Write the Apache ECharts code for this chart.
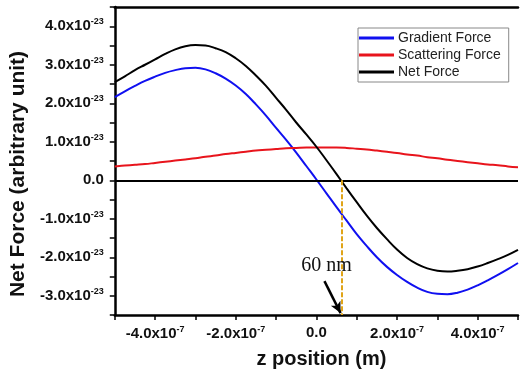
<!DOCTYPE html>
<html>
<head>
<meta charset="utf-8">
<script src="https://cdn.jsdelivr.net/npm/echarts@6/dist/echarts.min.js"></script>
<style>
  html, body { margin: 0; padding: 0; background: #fff; }
  #chart { width: 521px; height: 374px; }
</style>
</head>
<body>
<div id="chart"></div>
<script>
// z in units of 1e-7 m, forces in units of 1e-23
const zPos = [-5, -4.75, -4.5, -4.25, -4, -3.75, -3.5, -3.25, -3, -2.75, -2.5, -2.25, -2, -1.75, -1.5, -1.25, -1, -0.75, -0.5, -0.25,
  0, 0.25, 0.5, 0.75, 1, 1.25, 1.5, 1.75, 2, 2.25, 2.5, 2.75, 3, 3.25, 3.5, 3.75, 4, 4.25, 4.5, 4.75, 5];
const gradientForce = [2.16, 2.31, 2.45, 2.58, 2.69, 2.79, 2.86, 2.91, 2.92, 2.88, 2.78, 2.64, 2.46, 2.24, 1.97, 1.68, 1.36, 1.05, 0.72, 0.37,
  0.02, -0.34, -0.70, -1.05, -1.40, -1.71, -2.00, -2.25, -2.46, -2.64, -2.79, -2.90, -2.95, -2.96, -2.92, -2.84, -2.73, -2.60, -2.46, -2.31, -2.15];
const scatteringForce = [0.36, 0.38, 0.40, 0.42, 0.45, 0.48, 0.51, 0.54, 0.57, 0.61, 0.64, 0.68, 0.71, 0.74, 0.77, 0.79, 0.81, 0.83, 0.84, 0.85,
  0.85, 0.85, 0.85, 0.84, 0.82, 0.80, 0.77, 0.74, 0.71, 0.67, 0.64, 0.60, 0.57, 0.53, 0.50, 0.47, 0.44, 0.41, 0.39, 0.36, 0.34];
const netForce = [2.55, 2.70, 2.86, 3.00, 3.14, 3.28, 3.40, 3.48, 3.51, 3.50, 3.43, 3.33, 3.17, 2.97, 2.72, 2.45, 2.14, 1.83, 1.50, 1.19,
  0.87, 0.52, 0.16, -0.21, -0.57, -0.92, -1.24, -1.53, -1.80, -2.02, -2.18, -2.29, -2.35, -2.37, -2.35, -2.31, -2.24, -2.15, -2.05, -1.94, -1.81];

const seriesNames = ["Gradient Force", "Scattering Force", "Net Force"];
const seriesColors = ["#1010f0", "#e8141c", "#000000"];

const crossZ = 0.63;        // net force zero crossing
const crossLabel = "60 nm";

const chart = echarts.init(document.getElementById("chart"));

const fontFamily = "Liberation Sans, Arial, sans-serif";
const rich = {
  a: { fontSize: 15, fontWeight: "bold", fontFamily: fontFamily, color: "#111" },
  s: { fontSize: 9, fontWeight: "bold", fontFamily: fontFamily, color: "#111", padding: [0, 0, 9, 0] }
};

const toPairs = (vals) => zPos.map((z, i) => [z, vals[i]]);

const option = {
  animation: false,
  backgroundColor: "#fff",
  grid: { left: 113, top: 7, width: 415, height: 308 },
  legend: {
    orient: "vertical",
    left: 358,
    top: 28,
    padding: [3, 8, 3, 1],
    itemGap: 3,
    itemWidth: 35,
    itemHeight: 3,
    icon: "rect",
    borderColor: "#888",
    borderWidth: 1,
    textStyle: { fontSize: 14, fontFamily: fontFamily, color: "#222", padding: [0, 0, 0, -1] },
    data: seriesNames
  },
  xAxis: [
    {
      type: "value",
      min: -5,
      max: 5,
      interval: 1,
      position: "bottom",
      splitLine: { show: false },
      axisLine: { onZero: false, lineStyle: { color: "#000", width: 2.5 } },
      axisTick: { length: 5, lineStyle: { color: "#000", width: 1.5 } },
      axisLabel: {
        margin: 10,
        formatter: (v) => {
          if (Math.abs(v) % 2 !== 0 || Math.abs(v) === 5) return "";
          if (v === 0) return "{a|0.0}";
          return "{a|" + v.toFixed(1) + "x10}{s|-7}";
        },
        rich: rich
      },
      name: "z position (m)",
      nameLocation: "middle",
      nameGap: 34,
      nameTextStyle: { fontSize: 20, fontWeight: "bold", fontFamily: fontFamily, color: "#111", padding: [0, 0, 0, 10] }
    },
    {
      type: "value",
      min: -5,
      max: 5,
      position: "top",
      splitLine: { show: false },
      axisLine: { onZero: false, lineStyle: { color: "#000", width: 2.5 } },
      axisTick: { show: false },
      axisLabel: { show: false }
    }
  ],
  yAxis: {
    type: "value",
    min: -3.5,
    max: 4.5,
    interval: 0.5,
    splitLine: { show: false },
    axisLine: { onZero: false, lineStyle: { color: "#000", width: 2.5 } },
    axisTick: { length: 5, lineStyle: { color: "#000", width: 1.5 } },
    axisLabel: {
      margin: 11,
      formatter: (v) => {
        if (Math.abs(v % 1) > 1e-9 || v > 4.01 || v < -3.01) return "";
        if (v === 0) return "{a|0.0}";
        return "{a|" + v.toFixed(1) + "x10}{s|-23}";
      },
      rich: rich
    },
    name: "Net Force (arbitrary unit)",
    nameLocation: "middle",
    nameGap: 71,
    nameTextStyle: { fontSize: 21, fontWeight: "bold", fontFamily: fontFamily, color: "#111", padding: [0, 26, 0, 0] }
  },
  series: [
    {
      name: seriesNames[0],
      type: "line",
      smooth: 0.4,
      showSymbol: false,
      color: seriesColors[0],
      lineStyle: { width: 2, color: seriesColors[0] },
      data: toPairs(gradientForce),
      z: 3
    },
    {
      name: seriesNames[1],
      type: "line",
      smooth: 0.4,
      showSymbol: false,
      color: seriesColors[1],
      lineStyle: { width: 2, color: seriesColors[1] },
      data: toPairs(scatteringForce),
      z: 3
    },
    {
      name: seriesNames[2],
      type: "line",
      smooth: 0.4,
      showSymbol: false,
      color: seriesColors[2],
      lineStyle: { width: 2, color: seriesColors[2] },
      data: toPairs(netForce),
      z: 4,
      markLine: {
        silent: true,
        symbol: "none",
        label: { show: false },
        data: [
          { yAxis: 0, lineStyle: { color: "#000", width: 2, type: "solid" } },
          [
            { coord: [crossZ, 0], lineStyle: { color: "#e0a418", width: 2, type: [5, 2] } },
            { coord: [crossZ, -3.5] }
          ],
          [
            { coord: [0.2, -2.62], symbol: "none", lineStyle: { color: "#000", width: 2.5, type: "solid" } },
            { coord: [0.6, -3.45], symbol: "arrow", symbolSize: [8, 11] }
          ]
        ]
      },
      markPoint: {
        silent: true,
        symbol: "circle",
        symbolSize: 0,
        data: [
          {
            coord: [0.25, -2.21],
            label: {
              show: true,
              position: "inside",
              formatter: crossLabel,
              fontSize: 20,
              fontFamily: "Liberation Serif, Times New Roman, serif",
              color: "#111"
            }
          }
        ]
      }
    }
  ]
};

chart.setOption(option);
</script>
</body>
</html>
